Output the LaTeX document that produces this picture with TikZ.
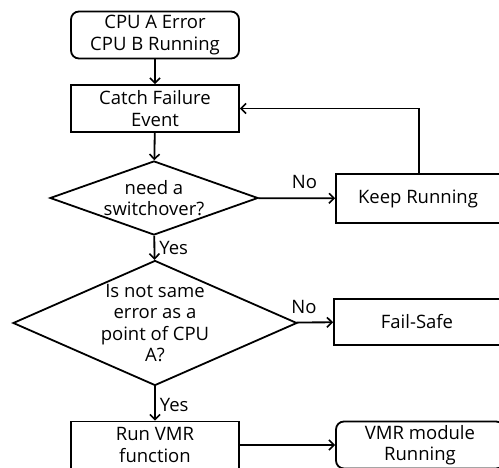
\documentclass[tikz,border=0pt]{standalone}
\usepackage{fontspec}
\setmainfont{Open Sans}
\usepackage{tikz}
\usetikzlibrary{shapes.geometric}
\usetikzlibrary{arrows.meta}

\begin{document}
\begin{tikzpicture}[x=1pt, y=-1pt,
    font=\fontsize{18.5}{21.5}\selectfont,
    box/.style={draw, line width=1.8pt, minimum width=168pt, minimum height=47pt, align=center, inner sep=0pt},
    rbox/.style={box, rounded corners=8pt},
    decision/.style={draw, line width=1.8pt, diamond, inner sep=0pt},
    flow/.style={line width=1.8pt, -{Straight Barb[length=5pt, width=10pt, line width=1.6pt]}}]
    \clip (0, 0) rectangle (499, 468);
    \useasboundingbox (0, 0) rectangle (499, 468);
    % main column
    \node[rbox] (start) at (155, 35) {CPU A Error\\CPU B Running};
    \node[box] (catch) at (155, 108.5) {Catch Failure\\Event};
    \node[decision, minimum width=208pt, minimum height=74pt] (switch) at (154, 198) {};
    \node[align=center] (switchtxt) at (switch) {need a\\switchover?};
    \node[decision, minimum width=284pt, minimum height=125pt] (same) at (155, 323) {};
    \node[align=center] (sametxt) at (same) {Is not same\\error as a\\point of CPU\\A?};
    \node[box] (run) at (155, 445) {Run VMR\\function};
    % right column
    \node[box, minimum width=164pt, minimum height=49pt] (keep) at (418, 198.5) {Keep Running};
    \node[box, minimum width=166pt, minimum height=46pt] (fail) at (417, 322) {Fail-Safe};
    \node[rbox, minimum width=168pt] (vmr) at (420, 445) {VMR module\\Running};
    \coordinate (loop) at (419, 108);
    % connectors
    \draw[flow] (start) -- (catch);
    \draw[flow] (catch) -- (switch);
    \draw[flow] (switch) -- node[above=5pt, pos=0.6] (no1) {No} (keep);
    \draw[flow] (keep.north -| loop) |- (catch.east);
    \draw[flow] (switch) -- node[right, inner sep=4pt] (yes1) {Yes} (same);
    \draw[flow] (same) -- node[above=5pt, pos=0.2] (no2) {No} (fail);
    \draw[flow] (same) -- node[right, inner sep=4pt, pos=0.55] (yes2) {Yes} (run);
    \draw[flow] (run) -- (vmr);
\end{tikzpicture}
\end{document}
